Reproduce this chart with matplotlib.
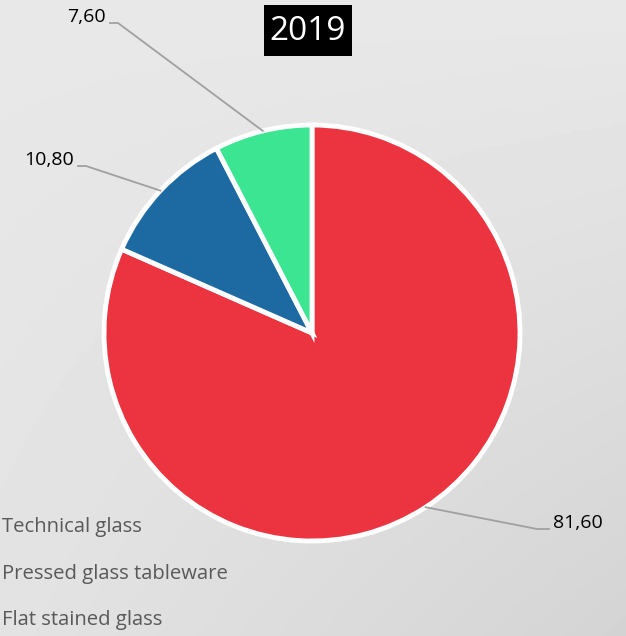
import numpy as np
import matplotlib
matplotlib.use('Agg')
import matplotlib.pyplot as plt
from matplotlib.patches import Rectangle

plt.rcParams['font.family'] = ['Open Sans', 'DejaVu Sans']

# 数据
categories = ['Technical glass', 'Pressed glass tableware', 'Flat stained glass']
values = [81.60, 10.80, 7.60]
colors = ['#ec3340', '#1d6aa3', '#3be592']
title = '2019'

W, H = 626, 636
fig = plt.figure(figsize=(W / 100, H / 100), dpi=100)

# 背景渐变
bg = fig.add_axes([0, 0, 1, 1], zorder=-10)
gx, gy = np.meshgrid(np.linspace(0, 1, 200), np.linspace(0, 1, 200))
shade = 0.91 - 0.06 * gx * gy - 0.02 * gy
bg.imshow(shade, cmap='gray', vmin=0, vmax=1, extent=[0, 1, 0, 1], aspect='auto', origin='upper')
bg.axis('off')

# 饼图位置：中心 (312, 333) px，半径 208 px
cx, cy, r = 312, 333, 208
ax = fig.add_axes([(cx - r) / W, (H - cy - r) / H, 2 * r / W, 2 * r / H])
wedges, _ = ax.pie(values, colors=colors, startangle=90, counterclock=False,
                   wedgeprops=dict(edgecolor='white', linewidth=3.5))
ax.set_xlim(-1, 1)
ax.set_ylim(-1, 1)
ax.axis('off')


def px(x, y):
    return (x - cx) / r, (cy - y) / r


# 数据标签 + 引导线
label_pos = [(553, 523, 'left'), (74, 160, 'right'), (106, 17, 'right')]
for w, v, (lx, ly, ha) in zip(wedges, values, label_pos):
    mid = np.deg2rad((w.theta1 + w.theta2) / 2)
    ax_, ay_ = np.cos(mid), np.sin(mid)
    tx, ty = px(lx, ly)
    dy = 6 / r
    if ha == 'right':
        ex, ey = tx + 4 / r, ty - dy
        sx = ex + 8 / r
    else:
        ex, ey = tx - 4 / r, ty - dy
        sx = ex - 12 / r
    ax.plot([ex, sx, ax_], [ey, ey, ay_], color='#a0a0a0', lw=1.3, clip_on=False)
    ax.text(tx, ty, ('%.2f' % v).replace('.', ','), ha=ha, va='center',
            fontsize=14, color='black', clip_on=False)

# 标题（黑底白字）
fig.patches.append(Rectangle((264 / W, 1 - 56 / H), 88 / W, 51 / H, transform=fig.transFigure,
                             facecolor='black', edgecolor='none', zorder=5))
fig.text(308 / W, 1 - 31 / H, title, ha='center', va='center', fontsize=24, color='white', zorder=6)

# 图例（只显示文字）
for i, c in enumerate(categories):
    fig.text(0.003, 1 - (527 + 46.5 * i) / H, c, ha='left', va='center',
             fontsize=14.6, color='#595959')

fig.savefig('out.png', dpi=100)
